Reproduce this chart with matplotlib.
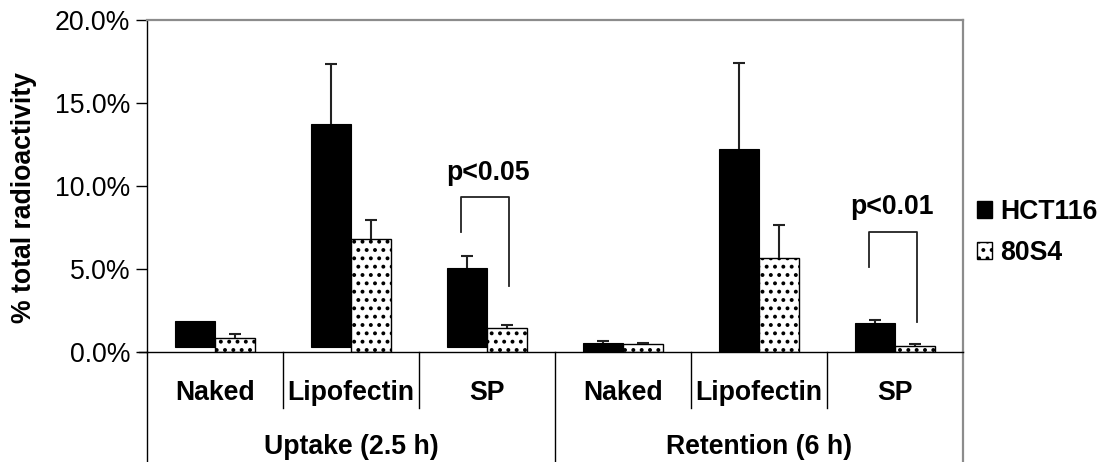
import numpy as np
import matplotlib
matplotlib.use("Agg")
import matplotlib.pyplot as plt
import matplotlib.transforms as mtransforms
from matplotlib.patches import Patch
from matplotlib.ticker import FuncFormatter

plt.rcParams['font.family'] = ['Liberation Sans', 'DejaVu Sans']
plt.rcParams['hatch.linewidth'] = 1.6

# data (% of total radioactivity)
methods = ["Naked", "Lipofectin", "SP", "Naked", "Lipofectin", "SP"]
groups = ["Uptake (2.5 h)", "Retention (6 h)"]
hct116 = [1.87, 13.73, 5.06, 0.52, 12.23, 1.75]
hct116_err = [0.0, 3.6, 0.7, 0.14, 5.2, 0.18]
hct116_base = [0.3, 0.3, 0.3, 0.0, 0.0, 0.0]
s4 = [0.86, 6.83, 1.43, 0.48, 5.68, 0.36]
s4_err = [0.2, 1.14, 0.2, 0.08, 2.0, 0.12]

W, H = 1108, 462
fig = plt.figure(figsize=(W / 100, H / 100), dpi=100)
ax = fig.add_axes([147 / W, 1 - 352 / H, (963 - 147) / W, (352 - 20) / H])

x = np.arange(len(methods))
bw = 0.294
fs = 19.2

hct_h = [v - b for v, b in zip(hct116, hct116_base)]
ax.bar(x - bw / 2, hct_h, bw, bottom=hct116_base, color="black",
       edgecolor="black", linewidth=0.8, label="HCT116", zorder=2)
ax.bar(x + bw / 2, s4, bw, color="white", edgecolor="black", hatch="..",
       linewidth=1.0, label="80S4", zorder=2)


def upper_errors(xs, vals, errs):
    xs, vals, errs = np.asarray(xs), np.asarray(vals), np.asarray(errs)
    keep = errs > 0
    _, caps, _ = ax.errorbar(xs[keep], vals[keep],
                             yerr=[np.zeros(keep.sum()), errs[keep]],
                             fmt="none", ecolor="#222222", elinewidth=1.5,
                             capsize=4.5, capthick=1.5, zorder=3)
    caps[0].set_visible(False)


upper_errors(x - bw / 2, hct116, hct116_err)
upper_errors(x + bw / 2, s4, s4_err)

# significance brackets
for (xl, xr, yt, yl, yr, tx, ty, txt) in [
        (1.81, 2.16, 9.36, 7.25, 3.98, 2.007, 10.78, "p<0.05"),
        (4.81, 5.16, 7.25, 5.14, 1.83, 4.976, 8.73, "p<0.01")]:
    ax.plot([xl, xl, xr, xr], [yl, yt, yt, yr], color="#222222", lw=1.3, zorder=3)
    ax.text(tx, ty, txt, ha="center", va="center", fontsize=fs, fontweight="bold")

ax.set_xlim(-0.5, 5.5)
ax.set_ylim(0, 20)
ax.set_yticks([0, 5, 10, 15, 20])
ax.yaxis.set_major_formatter(FuncFormatter(lambda v, p: f"{v:.1f}%"))
ax.tick_params(axis="y", direction="out", length=8, width=1, labelsize=fs, pad=4)
ax.set_xticks([])

for s in ["top", "right"]:
    ax.spines[s].set_color("#8c8c8c")
    ax.spines[s].set_linewidth(1.6)
for s in ["left", "bottom"]:
    ax.spines[s].set_color("black")
    ax.spines[s].set_linewidth(1.0)

# category table under the axis
trans = mtransforms.blended_transform_factory(ax.transData, fig.transFigure)
for i, m in enumerate(methods):
    ax.text(i, 1 - 393 / H, m, transform=trans, ha="center", va="center",
            fontsize=fs, fontweight="bold")
for gi, g in enumerate(groups):
    ax.text(gi * 3 + 1, 1 - 447 / H, g, transform=trans, ha="center",
            va="center", fontsize=fs, fontweight="bold")
for xs in [0.5, 1.5, 3.5, 4.5]:
    ax.plot([xs, xs], [1 - 352 / H, 1 - 408 / H], transform=trans,
            color="black", lw=1.0, clip_on=False)
for xs, c in [(-0.5, "black"), (2.5, "black"), (5.5, "#8c8c8c")]:
    ax.plot([xs, xs], [1 - 352 / H, 0], transform=trans,
            color=c, lw=1.0 if c == "black" else 1.6, clip_on=False)
# bottom line reaches out to the left tick
ax.plot([-0.5 - 8 / 136, -0.5], [0, 0], color="black", lw=1.0, clip_on=False)

fig.text(24 / W, 1 - 198 / H, "% total radioactivity", rotation=90,
         ha="center", va="center", fontsize=fs, fontweight="bold")

handles = [Patch(facecolor="black", edgecolor="black", label="HCT116"),
           Patch(facecolor="white", edgecolor="black", hatch="..", label="80S4")]
fig.legend(handles=handles, loc="upper left", bbox_to_anchor=(953 / W, 1 - 175 / H),
           frameon=False, handlelength=0.58, handleheight=0.58, handletextpad=0.3,
           labelspacing=0.55, prop=dict(size=fs, weight="bold"))

fig.savefig("out.png", dpi=100)
